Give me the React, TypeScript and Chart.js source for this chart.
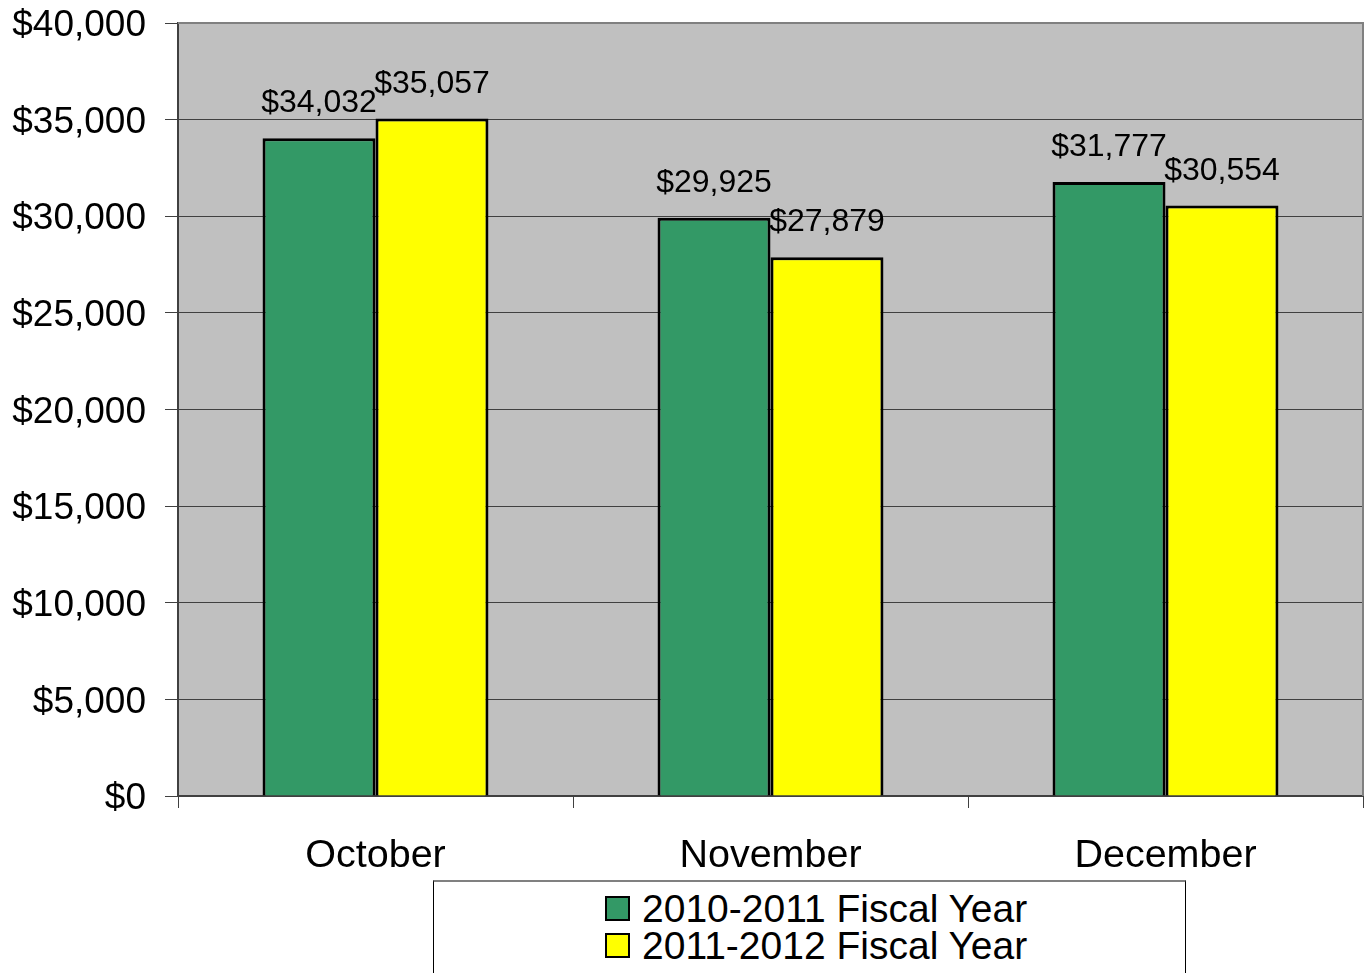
import React, { useEffect, useRef } from "react";
import { Chart, registerables } from "chart.js";

Chart.register(...registerables);

const categories = ["October", "November", "December"];
const seriesNames = ["2010-2011 Fiscal Year", "2011-2012 Fiscal Year"];
const fy2011Values = [34032, 29925, 31777];
const fy2012Values = [35057, 27879, 30554];
const seriesColors = ["#339966", "#FFFF00"];
const yMin = 0;
const yMax = 40000;
const yStep = 5000;

const FONT = "'Liberation Sans', Arial, Helvetica, sans-serif";

const fmt = (v: number) => "$" + Math.round(v).toLocaleString("en-US");

const bgPlugin = {
  id: "plotBg",
  beforeDraw(chart: any) {
    const { ctx, chartArea } = chart;
    const { left, top, right, bottom } = chartArea;
    ctx.save();
    ctx.fillStyle = "#C0C0C0";
    ctx.fillRect(left, top, right - left, bottom - top);
    ctx.restore();
  },
  afterDatasetsDraw(chart: any) {
    const { ctx, chartArea } = chart;
    const { left, top, right, bottom } = chartArea;
    ctx.save();
    ctx.strokeStyle = "#808080";
    ctx.lineWidth = 2;
    ctx.beginPath();
    ctx.moveTo(left, top);
    ctx.lineTo(right, top);
    ctx.lineTo(right, bottom);
    ctx.stroke();
    ctx.fillStyle = "#000";
    ctx.font = `32px ${FONT}`;
    ctx.textAlign = "center";
    ctx.textBaseline = "alphabetic";
    chart.data.datasets.forEach((ds: any, di: number) => {
      const meta = chart.getDatasetMeta(di);
      meta.data.forEach((bar: any, i: number) => {
        ctx.fillText(fmt(ds.data[i]), bar.x, bar.y - 26);
      });
    });
    ctx.restore();
  },
};

export default function App() {
  const canvasRef = useRef<HTMLCanvasElement | null>(null);

  useEffect(() => {
    const canvas = canvasRef.current;
    if (!canvas) return;
    const chart = new Chart(canvas, {
      type: "bar",
      data: {
        labels: categories,
        datasets: [
          {
            label: seriesNames[0],
            data: fy2011Values,
            backgroundColor: seriesColors[0],
            borderColor: "#000",
            borderWidth: 3,
            barPercentage: 1,
            categoryPercentage: 0.572,
          },
          {
            label: seriesNames[1],
            data: fy2012Values,
            backgroundColor: seriesColors[1],
            borderColor: "#000",
            borderWidth: 3,
            barPercentage: 1,
            categoryPercentage: 0.572,
          },
        ],
      },
      options: {
        animation: false,
        responsive: false,
        maintainAspectRatio: false,
        layout: { padding: { left: 0, right: 8, top: 23, bottom: 0 } },
        plugins: {
          legend: { display: false },
          tooltip: { enabled: false },
        },
        scales: {
          x: {
            offset: true,
            grid: {
              offset: true,
              drawOnChartArea: false,
              drawTicks: true,
              tickLength: 12,
              color: "#404040",
              lineWidth: 1,
            },
            border: { color: "#404040", width: 2 },
            ticks: {
              color: "#000",
              font: { family: FONT, size: 39.5 },
              padding: 24,
              maxRotation: 0,
            },
            afterFit: (scale: any) => {
              scale.height = 177;
              scale.paddingLeft = 0;
              scale.paddingRight = 0;
            },
          },
          y: {
            min: yMin,
            max: yMax,
            grid: {
              color: "#404040",
              lineWidth: 1,
              drawTicks: true,
              tickLength: 13,
            },
            border: { color: "#404040", width: 2 },
            ticks: {
              stepSize: yStep,
              color: "#000",
              font: { family: FONT, size: 37 },
              padding: 19,
              labelOffset: 3,
              callback: (v: any) => fmt(Number(v)),
            },
            afterFit: (scale: any) => {
              scale.width = 178;
              scale.paddingTop = 0;
              scale.paddingBottom = 0;
            },
          },
        },
      },
      plugins: [bgPlugin],
    });
    return () => chart.destroy();
  }, []);

  const legendItem = (i: number, top: number) => (
    <div
      key={i}
      style={{
        position: "absolute",
        left: 604 - 433,
        top,
        display: "flex",
        alignItems: "center",
        height: 37,
      }}
    >
      <div
        style={{
          width: 21,
          height: 21,
          background: seriesColors[i],
          border: "2px solid #000",
          marginRight: 12,
        }}
      />
      <span style={{ fontFamily: FONT, fontSize: 39, color: "#000", lineHeight: "37px" }}>
        {seriesNames[i]}
      </span>
    </div>
  );

  return (
    <div style={{ position: "fixed", left: 0, top: 0, width: 1371, height: 973, background: "#fff", overflow: "hidden" }}>
      <canvas ref={canvasRef} width={1371} height={973} style={{ position: "absolute", left: 0, top: 0 }} />
      <div
        style={{
          position: "absolute",
          left: 433,
          top: 880,
          width: 751,
          height: 120,
          borderTop: "2px solid #808080",
          borderLeft: "1px solid #000",
          borderRight: "1px solid #000",
          background: "#fff",
        }}
      >
        {legendItem(0, 8)}
        {legendItem(1, 45)}
      </div>
    </div>
  );
}
